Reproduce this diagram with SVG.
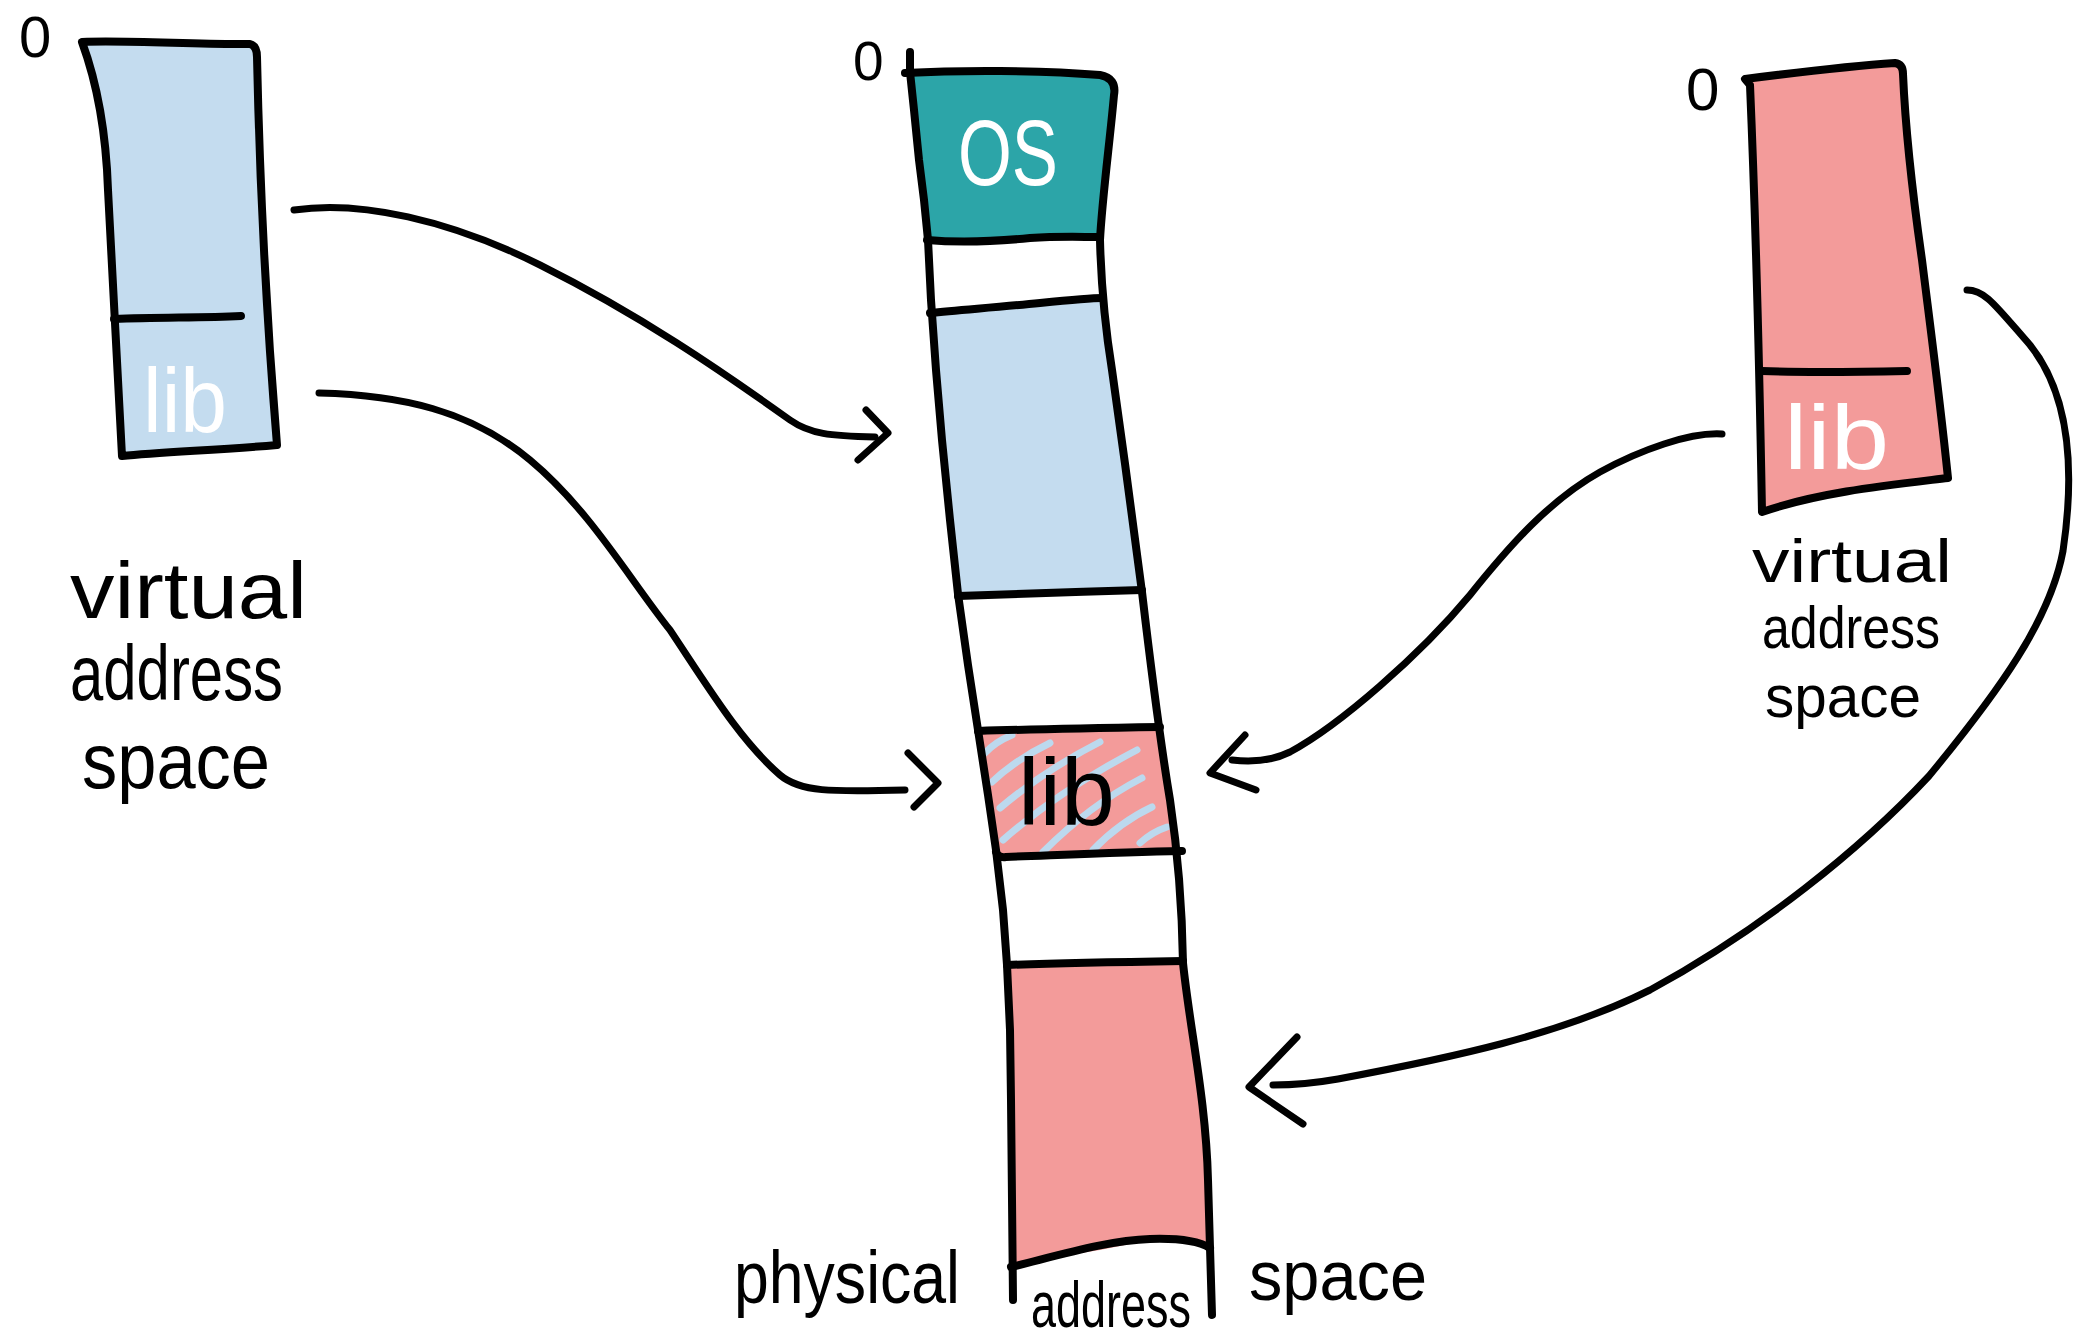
<svg xmlns="http://www.w3.org/2000/svg" width="2073" height="1338" viewBox="0 0 2073 1338">
<style>
.ink{fill:none;stroke:#000;stroke-width:8;stroke-linecap:round;stroke-linejoin:round}
.conn{fill:none;stroke:#000;stroke-width:7;stroke-linecap:round;stroke-linejoin:round}
.hatch{fill:none;stroke:#bcd9ee;stroke-width:7;stroke-linecap:round}
.blue{fill:#c4dcef}
.pink{fill:#f39b9a}
.teal{fill:#2ca5a8}
.hand{font-family:"Liberation Sans","DejaVu Sans",sans-serif;fill:#000}
.handw{font-family:"Liberation Sans","DejaVu Sans",sans-serif;fill:#fff}
</style>
<rect x="0" y="0" width="2073" height="1338" fill="#fff"/>

<g id="node-left-virtual">
<path class="blue" d="M82,42 C130,40 200,45 250,44 Q257,46 257,57 C259,150 265,300 277,445 C220,450 160,452 122,456 C118,380 113,300 108,190 C106,130 96,80 82,42 Z"/>
<path class="ink" d="M82,42 C130,40 200,45 250,44 Q257,46 257,57 C259,150 265,300 277,445 C220,450 160,452 122,456 C118,380 113,300 108,190 C106,130 96,80 82,42 Z"/>
<path class="ink" d="M114,319 C160,317 200,318 241,316"/>
<text class="handw" x="143" y="432" font-size="90" textLength="84" lengthAdjust="spacingAndGlyphs">lib</text>
<text class="hand" x="19" y="57" font-size="58">0</text>
<text class="hand" x="70" y="618" font-size="80" textLength="237" lengthAdjust="spacingAndGlyphs">virtual</text>
<text class="hand" x="70" y="700" font-size="78" textLength="213" lengthAdjust="spacingAndGlyphs">address</text>
<text class="hand" x="82" y="788" font-size="78" textLength="188" lengthAdjust="spacingAndGlyphs">space</text>
</g>

<g id="node-physical">
<polygon class="teal" points="908,72 960,71 1020,71 1080,73 1108,77 1115,85 1112,110 1106,160 1101,210 1100,238 1030,238 970,243 927,240 924,200 919,160 914,110"/>
<polygon class="blue" points="932,311 997,307 1100,298 1102,300 1110,360 1120,420 1130,500 1142,592 958,596 950,520 942,440 936,370"/>
<polygon class="pink" points="978,731 1160,727 1170,800 1179,851 998,857 988,795"/>
<g>
<path class="hatch" d="M985,753 Q995,742 1012,735"/>
<path class="hatch" d="M992,782 Q1015,760 1050,743"/>
<path class="hatch" d="M1000,808 Q1045,770 1100,742"/>
<path class="hatch" d="M1003,840 Q1060,790 1137,750"/>
<path class="hatch" d="M1043,852 Q1090,805 1142,778"/>
<path class="hatch" d="M1093,850 Q1120,822 1152,807"/>
<path class="hatch" d="M1140,843 Q1152,832 1167,827"/>
</g>
<polygon class="pink" points="1007,965 1183,961 1192,1040 1204,1110 1208,1180 1210,1245 1180,1242 1150,1240 1100,1250 1050,1258 1011,1268 1011,1100 1010,1030"/>
<polyline class="ink" points="910,52 910,72 914,110 919,160 924,200 928,240 931,300 936,370 942,440 950,520 958,594 968,665 978,730 988,795 996,850 1003,910 1007,965 1010,1030 1011,1100 1012,1200 1013,1300"/>
<path class="ink" d="M905,73 C960,70 1040,70 1100,75 Q1117,78 1114,95 C1110,140 1102,200 1100,240 C1101,280 1104,320 1112,370 C1122,440 1134,530 1142,592 C1150,660 1160,740 1170,800 C1176,840 1182,900 1183,963 C1190,1030 1206,1100 1208,1180 L1212,1315"/>
<path class="ink" d="M927,240 C960,243 1000,241 1030,238 C1060,236 1080,237 1100,237"/>
<path class="ink" d="M930,313 C960,310 1000,307 1040,303 C1070,300 1090,298 1102,298"/>
<path class="ink" d="M958,596 C1010,594 1080,592 1142,590"/>
<path class="ink" d="M978,731 C1040,729 1100,728 1160,727"/>
<path class="ink" d="M996,852 Q998,858 1006,857 C1060,855 1120,852 1182,851"/>
<path class="ink" d="M1007,965 C1060,963 1120,962 1183,961"/>
<path class="ink" d="M1011,1267 C1060,1255 1110,1240 1150,1239 C1180,1238 1200,1242 1210,1248"/>
<text class="handw" x="958" y="185" font-size="92" textLength="100" lengthAdjust="spacingAndGlyphs">OS</text>
<text class="hand" x="1018" y="825" font-size="95" textLength="97" lengthAdjust="spacingAndGlyphs">lib</text>
<text class="hand" x="853" y="80" font-size="55">0</text>
<text class="hand" x="734" y="1303" font-size="75" textLength="226" lengthAdjust="spacingAndGlyphs">physical</text>
<text class="hand" x="1031" y="1327" font-size="65" textLength="160" lengthAdjust="spacingAndGlyphs">address</text>
<text class="hand" x="1249" y="1300" font-size="70" textLength="178" lengthAdjust="spacingAndGlyphs">space</text>
</g>

<g id="node-right-virtual">
<path class="pink" d="M1745,79 C1800,72 1850,66 1895,63 Q1903,64 1903,74 C1905,120 1912,190 1922,260 C1932,340 1940,400 1948,478 C1890,485 1820,492 1762,512 C1760,400 1757,250 1750,85 Z"/>
<path class="ink" d="M1745,79 C1800,72 1850,66 1895,63 Q1903,64 1903,74 C1905,120 1912,190 1922,260 C1932,340 1940,400 1948,478 C1890,485 1820,492 1762,512 C1760,400 1757,250 1750,85 Z"/>
<path class="ink" d="M1762,371 C1810,373 1860,372 1907,371"/>
<text class="handw" x="1784" y="469" font-size="90" textLength="105" lengthAdjust="spacingAndGlyphs">lib</text>
<text class="hand" x="1686" y="110" font-size="60">0</text>
<text class="hand" x="1752" y="582" font-size="62" textLength="200" lengthAdjust="spacingAndGlyphs">virtual</text>
<text class="hand" x="1762" y="648" font-size="60" textLength="178" lengthAdjust="spacingAndGlyphs">address</text>
<text class="hand" x="1765" y="717" font-size="60" textLength="156" lengthAdjust="spacingAndGlyphs">space</text>
</g>

<g id="connectors">
<path class="conn" d="M294,210 C360,200 450,220 540,265 C640,315 720,370 790,420 C810,434 830,436 875,437"/>
<path class="conn" d="M866,410 L888,433 L858,460"/>
<path class="conn" d="M319,393 C400,395 470,410 530,460 C590,510 630,580 670,630 C710,690 740,740 780,775 C800,792 830,792 905,790"/>
<path class="conn" d="M908,753 L938,783 L914,807"/>
<path class="conn" d="M1722,434 C1690,432 1640,450 1600,472 C1550,500 1510,545 1470,595 C1420,655 1340,725 1290,752 C1270,762 1250,762 1232,760"/>
<path class="conn" d="M1245,735 L1210,773 L1256,790"/>
<path class="conn" d="M1967,290 C1985,290 1995,305 2030,345 C2070,395 2075,470 2063,551 C2050,620 2000,690 1929,776 C1860,850 1760,930 1650,990 C1560,1035 1450,1058 1338,1079 C1310,1084 1290,1085 1273,1085"/>
<path class="conn" d="M1297,1037 L1249,1087 L1303,1124"/>
</g>
</svg>
